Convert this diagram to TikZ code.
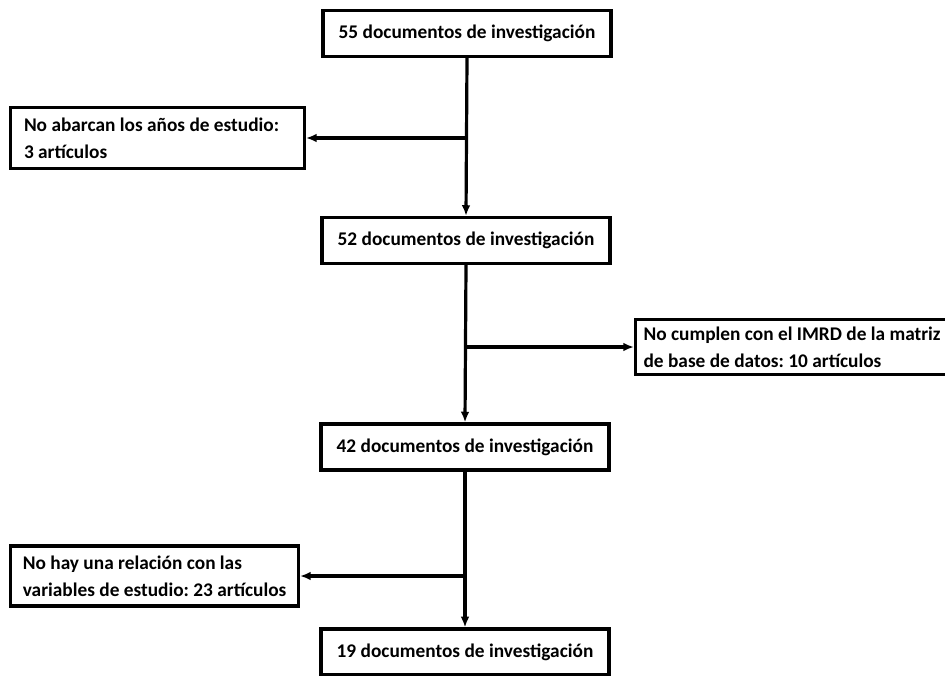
\documentclass[tikz,border=0pt]{standalone}
\usepackage{fontspec}
\setmainfont{Carlito}
\usetikzlibrary{arrows.meta}
\frenchspacing

\begin{document}
\begin{tikzpicture}[
    x=0.75pt, y=-0.75pt,
    mainbox/.style={rectangle, draw=black, line width=2.4pt, minimum width=288*0.75pt, minimum height=46*0.75pt, font=\fontsize{14.5}{20}\selectfont\bfseries},
    sidebox/.style={rectangle, draw=black, line width=2.4pt, inner xsep=10pt, align=flush left, font=\fontsize{14.5}{20}\selectfont\bfseries},
    arrow/.style={-{Latex[length=8pt,width=6.5pt]}, line width=2.4pt}
]
    \useasboundingbox (0,0) rectangle (945,675);

    \node[mainbox] (d55) at (467, 33.5) {55 documentos de investigación};
    \node[mainbox] (d52) at (466, 240.5) {52 documentos de investigación};
    \node[mainbox] (d42) at (465, 447) {42 documentos de investigación};
    \node[mainbox] (d19) at (465, 652) {19 documentos de investigación};

    \node[sidebox, minimum width=287*0.75pt, minimum height=61*0.75pt, text width=267*0.75pt] (ex1) at (157.5, 138) {No abarcan los años de estudio:\\3 artículos};
    \node[sidebox, inner xsep=6pt, minimum height=55*0.75pt, anchor=west] (ex2) at (634, 347) {No cumplen con el IMRD de la matriz\\de base de datos: 10 artículos};
    \node[sidebox, inner xsep=9pt, minimum height=60*0.75pt, anchor=east] (ex3) at (300, 576) {No hay una relación con las\\variables de estudio: 23 artículos};

    \draw[arrow] (d55.south) -- (d52.north);
    \draw[arrow] (d52.south) -- (d42.north);
    \draw[arrow] (d42.south) -- (d19.north);

    \draw[arrow] (d55.south |- ex1.east) -- (ex1.east);
    \draw[arrow] (d52.south |- ex2.west) -- (ex2.west);
    \draw[arrow] (d42.south |- ex3.east) -- (ex3.east);
\end{tikzpicture}
\end{document}
